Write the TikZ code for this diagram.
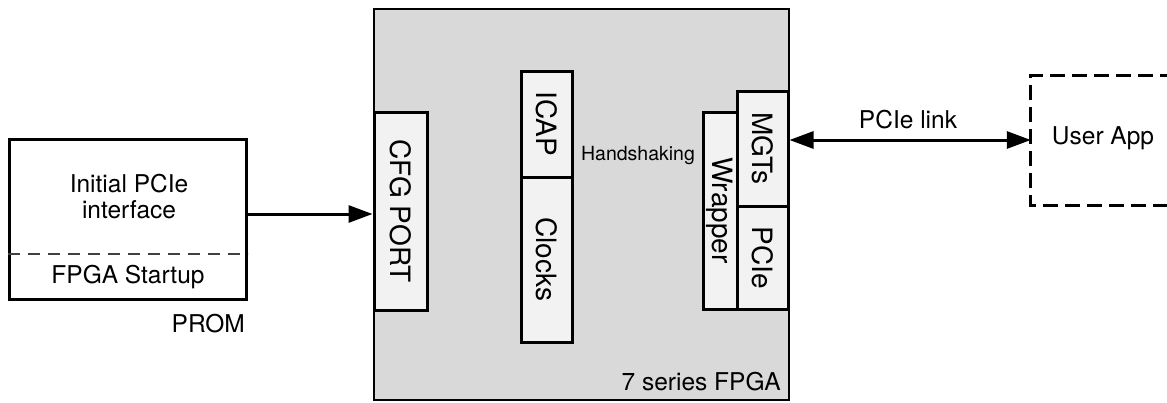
\documentclass[tikz,border=0pt]{standalone}
\usepackage{fontspec}
\setmainfont{TeX Gyre Heros}
\usetikzlibrary{arrows.meta}
\definecolor{fpgagray}{HTML}{D9D9D9}
\definecolor{blockgray}{HTML}{F2F2F2}
\tikzset{
  lbl/.style={font=\fontsize{24.5}{27}\selectfont, inner sep=0pt, align=center},
  blk/.style={draw, line width=3pt, fill=blockgray, inner sep=0pt},
  rottext/.style={rotate=-90, font=\fontsize{28}{30}\selectfont, inner sep=0pt},
  arr/.style={line width=3pt, -{Triangle[length=24pt,width=17pt]}},
  darr/.style={line width=3pt, {Triangle[length=24pt,width=17pt]}-{Triangle[length=24pt,width=17pt]}},
}
\begin{document}
\begin{tikzpicture}[x=1pt,y=-1pt]
\useasboundingbox (0,0) rectangle (1167,402);
\clip (0,0) rectangle (1167,402);
% PROM
\node[draw, line width=3pt, minimum width=237pt, minimum height=160pt, inner sep=0pt] (prom) at (127.5,219) {};
\draw[line width=1.6pt, dash pattern=on 12pt off 8pt, black!75] (prom.west |- 0,254) -- (prom.east |- 0,254);
\node[lbl] (initial) at (129,197) {Initial PCIe\\[-1pt]interface};
\node[lbl] (startup) at (128,277) {FPGA Startup};
\node[lbl, anchor=east] (promlbl) at (245,324) {PROM};
% FPGA
\node[draw, line width=2.3pt, fill=fpgagray, minimum width=415pt, minimum height=391pt, inner sep=0pt] (fpga) at (581.5,204.5) {};
\node[lbl, anchor=base east] (fpgalbl) at (781,390) {7 series FPGA};
\node[blk, minimum width=53pt, minimum height=198pt] (cfg) at (400.5,211) {};
\node[rottext] at (cfg.center) {CFG PORT};
\node[blk, minimum width=51pt, minimum height=106pt] (icap) at (546.5,124) {};
\node[rottext] at (icap.center) {ICAP};
\node[blk, minimum width=51pt, minimum height=165pt] (clocks) at (546.5,259.5) {};
\node[rottext] at (clocks.center) {Clocks};
\node[blk, minimum width=34pt, minimum height=197pt] (wrapper) at (720,210.5) {};
\node[rottext] at (wrapper.center) {Wrapper};
\node[blk, minimum width=51pt, minimum height=115pt] (mgts) at (762.5,148.5) {};
\node[rottext] at (mgts.center) {MGTs};
\node[blk, minimum width=51pt, minimum height=103pt] (pcie) at (762.5,257.5) {};
\node[rottext] at (pcie.center) {PCIe};
\node[font=\fontsize{19.5}{22}\selectfont, inner sep=0pt] (hs) at (638,156) {Handshaking};
% User App
\node[minimum width=144pt, minimum height=129pt, inner sep=0pt, draw=none] (ua) at (1103,140.5) {};
\draw[line width=3pt, dash pattern=on 15pt off 7pt] (ua.north east) -- (ua.north west) -- (ua.south west) -- (ua.south east);
\node[lbl] (ualbl) at (1103,138) {User App};
% connectors
\coordinate (ya) at (0,214);
\coordinate (yb) at (0,140);
\draw[arr] (prom.east |- ya) -- (cfg.west |- ya);
\draw[darr] (mgts.east |- yb) -- (ua.west |- yb);
\node[lbl] (linklbl) at (908,120) {PCIe link};
\end{tikzpicture}
\end{document}
